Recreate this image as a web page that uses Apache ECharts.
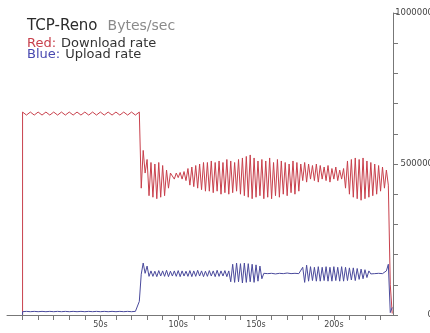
<!DOCTYPE html>
<html>
<head>
<meta charset="utf-8">
<script src="https://cdn.jsdelivr.net/npm/echarts@6/dist/echarts.min.js"></script>
<style>
html, body { margin: 0; padding: 0; background: #fff; }
#chart { width: 430px; height: 333px; }
</style>
</head>
<body>
<div id="chart"></div>
<script>
// samples every 1.25 s, first entry is the start of the trace at t=0
var sampleStep = 1.25;
var sampleCount = 191;

// download rate, in thousands of bytes/sec
var downloadRate = [0,
    672,668,662,668, 672,668,662,668, 672,668,662,668, 672,668,662,668, 672,668,662,668,
    672,668,662,668, 672,668,662,668, 672,668,662,668, 672,668,662,668, 672,668,662,668,
    672,668,662,668, 672,668,662,668, 672,668,662,668, 672,668,662,668, 672,668,662,668,
    672,
    420, 545, 470, 515, 395,
    505, 390, 500, 385, 505, 390, 495, 395, 480, 420, 470,
    465, 450, 470, 455, 472, 450, 475, 445,
    485, 430, 490, 425, 495, 420, 500, 415, 505, 410, 505, 410,
    510, 405, 505, 410, 510, 400, 505, 405, 515, 400, 510, 405, 505, 410, 515, 400, 520, 395, 525, 390, 530, 385, 520, 390,
    510, 395, 515, 385, 510, 390, 520, 385, 505, 395, 515, 390, 510, 400, 505, 395, 500, 405, 510, 400, 505, 410,
    500, 445, 505, 440, 500, 450, 495, 445, 500, 440, 495, 450, 490, 445, 495, 440, 485, 450, 490, 445, 480, 450, 485,
    420, 510, 400, 515, 390, 520, 385, 515, 380, 520, 385, 510, 390, 505, 395, 500, 400, 495, 410, 490, 420, 480,
    430, 100, 5
];

// upload rate, in thousands of bytes/sec
var uploadRate = [0,
    11,9,12,10, 11,9,12,10, 11,9,12,10, 11,9,12,10, 11,9,12,10, 11,9,12,10, 11,9,12,10,
    11,9,12,10, 11,9,12,10, 11,9,12,10, 11,9,12,10, 11,9,12,10, 11,9,12,10, 11,9,12,10,
    11, 10, 12,
    15, 45, 135, 172, 138, 162, 128,
    146, 128, 145, 127, 147, 129, 146, 128, 148, 127, 145, 129, 146, 128, 147, 127, 146, 129, 145, 128,
    147, 127, 146, 128, 148, 129, 146, 127, 145, 128, 147, 129, 146, 127, 148, 128, 146, 129, 147, 127, 146,
    110, 168, 108, 172, 110, 170, 106, 172, 108, 170, 110, 168, 108, 166, 112, 162, 120,
    138, 141, 137, 140, 138, 141, 136, 140, 138, 141, 137, 140, 139, 141, 137, 140, 138, 142, 137, 140,
    158, 108, 165, 112, 160, 114, 158, 112, 160, 112, 158, 114, 160, 112, 158, 112, 160, 114, 158, 112,
    160, 112, 158, 114, 156, 116, 156, 114, 154, 118, 152, 120, 150, 124, 146,
    136, 140, 137, 141, 138, 140, 137, 142,
    146, 168, 8, 25
];

var xTickLabels = [50, 100, 150, 200];
var yTickLabels = [0, 500000, 1000000];

var timeSec = [0];
for (var i = 0; i < sampleCount; i++) {
    timeSec.push(i * sampleStep);
}

function toPairs(values) {
    var out = [];
    for (var i = 0; i < values.length; i++) {
        out.push([timeSec[i], values[i] * 1000]);
    }
    return out;
}

var dom = document.getElementById('chart');
var myChart = echarts.init(dom);
var labelFont = 'DejaVu Sans';

var option = {
    animation: false,
    backgroundColor: '#fff',
    title: [{
        text: '{a|TCP-Reno}  {b|Bytes/sec}',
        left: 27, top: 17, padding: 0,
        textStyle: {
            fontWeight: 'normal',
            rich: {
                a: { fontFamily: labelFont, fontSize: 15, fontWeight: 'normal', color: '#2a2a2a' },
                b: { fontFamily: labelFont, fontSize: 14, fontWeight: 'normal', color: '#8a8a8a' }
            }
        }
    }, {
        text: '{r|Red:} {d|Download rate}',
        left: 27, top: 35, padding: 0,
        textStyle: {
            fontWeight: 'normal',
            rich: {
                r: { fontFamily: labelFont, fontSize: 13, fontWeight: 'normal', color: '#c8404c' },
                d: { fontFamily: labelFont, fontSize: 13, fontWeight: 'normal', color: '#333' }
            }
        }
    }, {
        text: '{r|Blue:} {d|Upload rate}',
        left: 27, top: 46, padding: 0,
        textStyle: {
            fontWeight: 'normal',
            rich: {
                r: { fontFamily: labelFont, fontSize: 13, fontWeight: 'normal', color: '#4848b0' },
                d: { fontFamily: labelFont, fontSize: 13, fontWeight: 'normal', color: '#333' }
            }
        }
    }],
    grid: { left: 7, right: 37, top: 13, bottom: 18, outerBoundsMode: 'none' },
    xAxis: {
        type: 'value',
        min: -10,
        max: 238,
        interval: 10,
        splitLine: { show: false },
        axisLine: { lineStyle: { color: '#777', width: 1 } },
        axisTick: { length: 5, lineStyle: { color: '#777' } },
        axisLabel: {
            margin: 6,
            fontFamily: labelFont,
            fontSize: 8,
            color: '#444',
            showMinLabel: false,
            showMaxLabel: false,
            formatter: function (v) {
                return xTickLabels.indexOf(v) >= 0 ? v + 's' : '';
            }
        }
    },
    yAxis: {
        type: 'value',
        position: 'right',
        min: 0,
        max: 1000000,
        interval: 100000,
        splitLine: { show: false },
        axisLine: { show: true, onZero: false, lineStyle: { color: '#777', width: 1 } },
        axisTick: { show: true, length: 5, lineStyle: { color: '#777' } },
        axisLabel: {
            align: 'right',
            margin: 40,
            fontFamily: labelFont,
            fontSize: 8.5,
            color: '#444',
            formatter: function (v) {
                return yTickLabels.indexOf(v) >= 0 ? String(v) : '';
            }
        }
    },
    series: [{
        name: 'Download rate',
        type: 'line',
        data: toPairs(downloadRate),
        symbol: 'none',
        lineStyle: { color: '#c8404c', width: 1 }
    }, {
        name: 'Upload rate',
        type: 'line',
        data: toPairs(uploadRate),
        symbol: 'none',
        lineStyle: { color: '#4a4a9c', width: 1 }
    }]
};

if (option && typeof option == "object") {
    myChart.setOption(option, true);
}
</script>
</body>
</html>
